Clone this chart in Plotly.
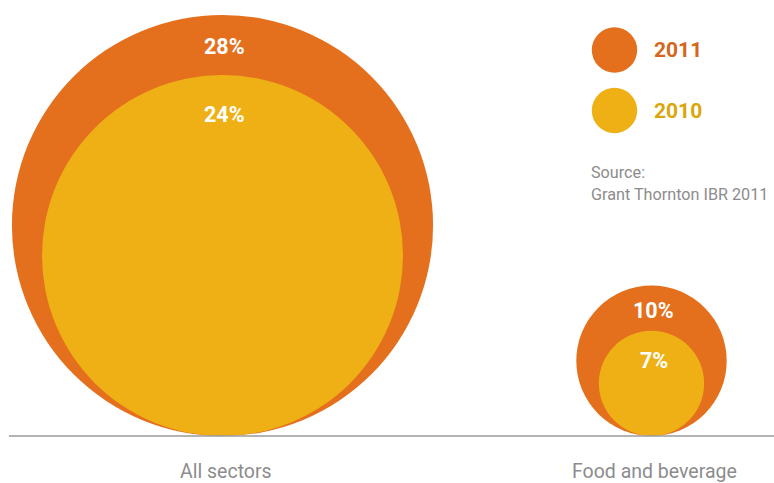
import plotly.graph_objects as go

# Share of businesses, by sector and year (%)
sectors = ["All sectors", "Food and beverage"]
values_2011 = [28, 10]
values_2010 = [24, 7]
years = ["2011", "2010"]
source_lines = ["Source:", "Grant Thornton IBR 2011"]

ORANGE = "#E4701E"
YELLOW = "#EFB015"
ORANGE_TXT = "#D5661C"
YELLOW_TXT = "#DAA60A"
GREY = "#8C8C8C"

W, H = 774, 483
BASE = 436            # baseline position from the top, px
PX_PER_PCT = 7.52     # circle radius per percentage point
group_x = [222.5, 651.5]
# label distance below each circle's top edge, px
label_off_2011 = [32, 25]
label_off_2010 = [39, 30]

fig = go.Figure()
shapes = []
annotations = []


def circle(cx, r, color):
    return dict(type="circle", xref="x", yref="y", x0=cx - r, x1=cx + r,
                y0=0, y1=2 * r, fillcolor=color, line=dict(width=0), layer="above")


for i, name in enumerate(sectors):
    cx = group_x[i]
    r11 = values_2011[i] * PX_PER_PCT
    r10 = values_2010[i] * PX_PER_PCT
    shapes.append(circle(cx, r11, ORANGE))
    shapes.append(circle(cx, r10, YELLOW))
    annotations.append(dict(x=cx + 2, y=2 * r11 - label_off_2011[i], text=f"<b>{values_2011[i]}%</b>",
                            showarrow=False, font=dict(family="Roboto", size=21.5, color="white")))
    annotations.append(dict(x=cx + 2, y=2 * r10 - label_off_2010[i], text=f"<b>{values_2010[i]}%</b>",
                            showarrow=False, font=dict(family="Roboto", size=21.5, color="white")))
    annotations.append(dict(x=cx + 3, y=-35.5, text=name, showarrow=False,
                            font=dict(family="Roboto", size=19.5, color=GREY)))

# baseline
shapes.append(dict(type="line", xref="x", yref="y", x0=9, x1=W, y0=0, y1=0,
                   line=dict(color="#9A9A9A", width=1.5), layer="above"))

# legend
leg_x, leg_r = 614.5, 22.7
for j, (yr, col, tcol) in enumerate(zip(years, [ORANGE, YELLOW], [ORANGE_TXT, YELLOW_TXT])):
    cy = BASE - (50 + 60.5 * j)
    shapes.append(dict(type="circle", xref="x", yref="y", x0=leg_x - leg_r, x1=leg_x + leg_r,
                       y0=cy - leg_r, y1=cy + leg_r, fillcolor=col, line=dict(width=0)))
    annotations.append(dict(x=652, y=cy, text=f"<b>{yr}</b>", showarrow=False, xanchor="left",
                            font=dict(family="Roboto", size=21, color=tcol)))

for k, line in enumerate(source_lines):
    annotations.append(dict(x=589, y=BASE - (172 + 22 * k), text=line, showarrow=False,
                            xanchor="left", font=dict(family="Roboto", size=16.2, color=GREY)))

fig.update_layout(
    width=W, height=H,
    margin=dict(l=0, r=0, t=0, b=0),
    paper_bgcolor="white", plot_bgcolor="white",
    xaxis=dict(range=[0, W], visible=False, fixedrange=True),
    yaxis=dict(range=[BASE - H, BASE], visible=False, fixedrange=True),
    shapes=shapes, annotations=annotations, showlegend=False,
)

fig.write_html("out.html", config={"displayModeBar": False})
